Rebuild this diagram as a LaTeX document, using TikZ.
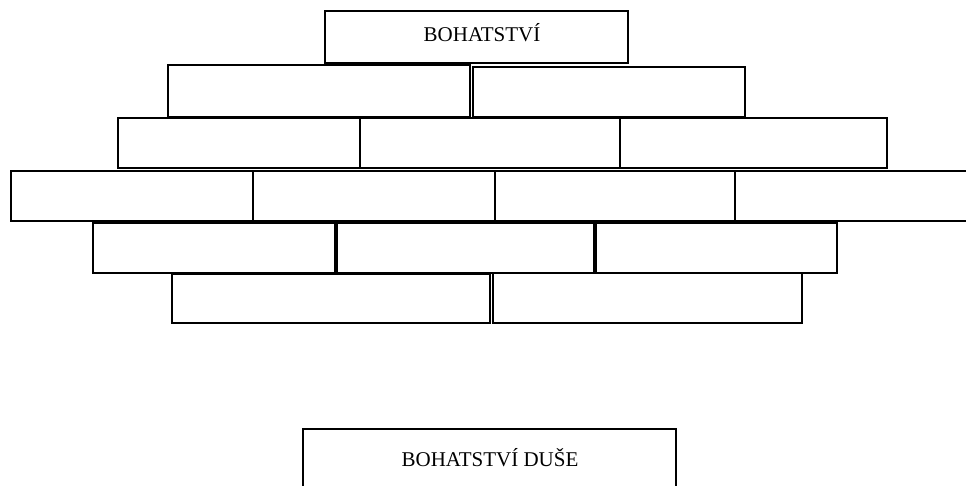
\documentclass[tikz,border=0pt]{standalone}
\usepackage{fontspec}
\setmainfont{Liberation Serif}
\usepackage{tikz}

\begin{document}
\begin{tikzpicture}[x=1pt,y=-1pt,
    brick/.style={draw,line width=1.5pt,inner sep=0pt},
    caption/.style={anchor=base,font=\fontsize{21}{25}\selectfont}]
            % frame
            \useasboundingbox (0,0) rectangle (966,486);
            \clip (0,0) rectangle (966,486);

            % top brick
            \node[brick,minimum width=303pt,minimum height=52pt] (top) at (476.5,37) {};
            \node[caption] (toptext) at (482,42) {BOHATSTVÍ};

            % wall
            \foreach \l/\r/\t/\b [count=\i] in {
                168/470/65/117, 473/745/67/117,
                118/360/118/168, 360/620/118/168, 620/887/118/168,
                11/253/171/221, 253/495/171/221, 495/735/171/221, 735/985/171/221,
                93/335/223/273, 337/594/223/273, 596/837/223/273,
                172/490/274/323, 493/802/273/323}
            \node[brick,minimum width={(\r-\l)*1pt},minimum height={(\b-\t)*1pt}]
                (brick\i) at ({(\l+\r)/2},{(\t+\b)/2}) {};

            % bottom brick
            \node[brick,minimum width=373pt,minimum height=90pt] (bottom) at (489.5,474) {};
            \node[caption] (bottomtext) at (490,466.5) {BOHATSTVÍ DUŠE};
\end{tikzpicture}
\end{document}
